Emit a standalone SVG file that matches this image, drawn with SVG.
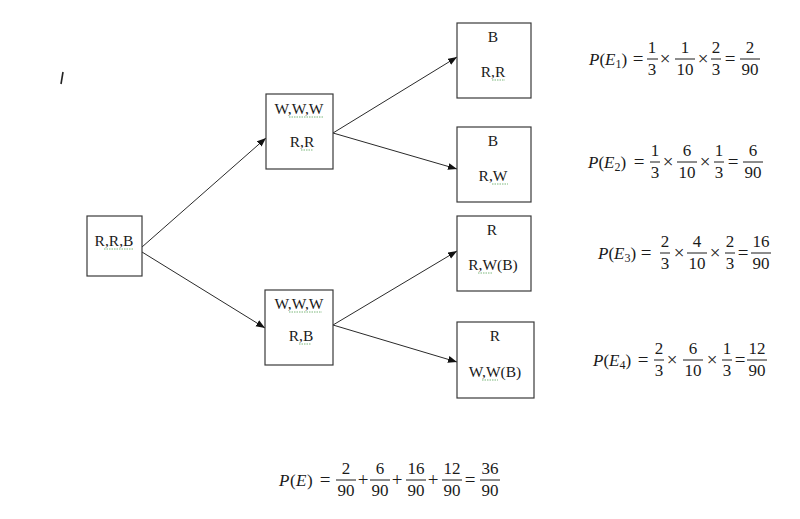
<svg xmlns="http://www.w3.org/2000/svg" width="800" height="519" viewBox="0 0 800 519">
<style>
.box{fill:#fff;stroke:#3a3a3a;stroke-width:1.2}
.t{font-family:"Liberation Serif","Times New Roman",serif;font-size:15.5px;fill:#1a1a1a;text-anchor:middle}
.m{font-family:"Liberation Serif","Times New Roman",serif;font-size:17px;fill:#1a1a1a}
.o{font-size:19px}
.c{text-anchor:middle}
.i{font-style:italic}
.bar{stroke:#1a1a1a;stroke-width:1}
.edge{stroke:#2a2a2a;stroke-width:1;fill:none;marker-end:url(#ah)}
.sq{stroke:#7cb87c;stroke-width:1;fill:none;stroke-dasharray:1.5 1}
</style>
<defs>
<marker id="ah" markerUnits="userSpaceOnUse" markerWidth="10" markerHeight="8" refX="9" refY="3.5" orient="auto">
<path d="M0,0 L9,3.5 L0,7 z" fill="#111"/>
</marker>
</defs>
<rect width="800" height="519" fill="#fff"/>
<path d="M63,72 L61,84" stroke="#222" stroke-width="1.6" fill="none"/>

<g id="connectors">
<line class="edge" x1="142" y1="247" x2="266" y2="138"/>
<line class="edge" x1="142" y1="252" x2="265" y2="328"/>
<line class="edge" x1="333" y1="133" x2="457" y2="57"/>
<line class="edge" x1="333" y1="133" x2="457" y2="169"/>
<line class="edge" x1="333" y1="325" x2="457" y2="251"/>
<line class="edge" x1="333" y1="325" x2="457" y2="362"/>
</g>

<g id="n0">
<rect class="box" x="87" y="216" width="55" height="60"/>
<text class="t" x="114" y="246">R,R,B</text>
<path class="sq" d="M104,249 H133"/>
</g>
<g id="n1">
<rect class="box" x="266" y="94" width="67" height="75"/>
<text class="t" x="299" y="114">W,W,W</text>
<path class="sq" d="M289,117 H323"/>
<text class="t" x="302" y="147">R,R</text>
<path class="sq" d="M301,150 H313"/>
</g>
<g id="n2">
<rect class="box" x="265" y="290" width="68" height="75"/>
<text class="t" x="299" y="309">W,W,W</text>
<path class="sq" d="M289,312 H322"/>
<text class="t" x="301" y="341">R,B</text>
<path class="sq" d="M299,344 H311"/>
</g>
<g id="n3">
<rect class="box" x="457" y="23" width="74" height="75"/>
<text class="t" x="493" y="42">B</text>
<text class="t" x="493" y="77">R,R</text>
<path class="sq" d="M492,80 H505"/>
</g>
<g id="n4">
<rect class="box" x="457" y="127" width="74" height="75"/>
<text class="t" x="493" y="146">B</text>
<text class="t" x="493" y="181">R,W</text>
<path class="sq" d="M492,184 H508"/>
</g>
<g id="n5">
<rect class="box" x="457" y="216" width="74" height="75"/>
<text class="t" x="492" y="235">R</text>
<text class="t" x="493" y="270">R,W(B)</text>
<path class="sq" d="M478,273 H492"/>
</g>
<g id="n6">
<rect class="box" x="457" y="322" width="77" height="76"/>
<text class="t" x="495" y="341">R</text>
<text class="t" x="495" y="377">W,W(B)</text>
<path class="sq" d="M482,380 H498"/>
</g>

<!-- E1: bar 59 -->
<g id="eq1">
<text class="m" x="589" y="65"><tspan class="i">P</tspan>(<tspan class="i">E</tspan><tspan font-size="12" dy="3">1</tspan><tspan dy="-3">)</tspan></text>
<text class="m o c" x="638" y="65">=</text>
<text class="m c" x="652" y="53">1</text><line class="bar" x1="647" y1="59" x2="658" y2="59"/><text class="m c" x="652" y="75">3</text>
<text class="m o c" x="665" y="65">×</text>
<text class="m c" x="685" y="53">1</text><line class="bar" x1="675" y1="59" x2="695" y2="59"/><text class="m c" x="685" y="75">10</text>
<text class="m o c" x="703" y="65">×</text>
<text class="m c" x="716" y="53">2</text><line class="bar" x1="711" y1="59" x2="721" y2="59"/><text class="m c" x="716" y="75">3</text>
<text class="m o c" x="730" y="65">=</text>
<text class="m c" x="750" y="53">2</text><line class="bar" x1="740" y1="59" x2="760" y2="59"/><text class="m c" x="750" y="75">90</text>
</g>

<!-- E2: bar 162 -->
<g id="eq2">
<text class="m" x="588" y="168"><tspan class="i">P</tspan>(<tspan class="i">E</tspan><tspan font-size="12" dy="3">2</tspan><tspan dy="-3">)</tspan></text>
<text class="m o c" x="639" y="168">=</text>
<text class="m c" x="655" y="156">1</text><line class="bar" x1="650" y1="162" x2="660" y2="162"/><text class="m c" x="655" y="178">3</text>
<text class="m o c" x="668" y="168">×</text>
<text class="m c" x="687" y="156">6</text><line class="bar" x1="677" y1="162" x2="697" y2="162"/><text class="m c" x="687" y="178">10</text>
<text class="m o c" x="705" y="168">×</text>
<text class="m c" x="719" y="156">1</text><line class="bar" x1="714" y1="162" x2="724" y2="162"/><text class="m c" x="719" y="178">3</text>
<text class="m o c" x="733" y="168">=</text>
<text class="m c" x="753" y="156">6</text><line class="bar" x1="743" y1="162" x2="763" y2="162"/><text class="m c" x="753" y="178">90</text>
</g>

<!-- E3: bar 253 -->
<g id="eq3">
<text class="m" x="598" y="259"><tspan class="i">P</tspan>(<tspan class="i">E</tspan><tspan font-size="12" dy="3">3</tspan><tspan dy="-3">)</tspan></text>
<text class="m o c" x="646" y="259">=</text>
<text class="m c" x="665" y="247">2</text><line class="bar" x1="660" y1="253" x2="670" y2="253"/><text class="m c" x="665" y="269">3</text>
<text class="m o c" x="679" y="259">×</text>
<text class="m c" x="697" y="247">4</text><line class="bar" x1="687" y1="253" x2="707" y2="253"/><text class="m c" x="697" y="269">10</text>
<text class="m o c" x="715" y="259">×</text>
<text class="m c" x="730" y="247">2</text><line class="bar" x1="725" y1="253" x2="735" y2="253"/><text class="m c" x="730" y="269">3</text>
<text class="m o c" x="743" y="259">=</text>
<text class="m c" x="761" y="247">16</text><line class="bar" x1="751" y1="253" x2="771" y2="253"/><text class="m c" x="761" y="269">90</text>
</g>

<!-- E4: bar 360 -->
<g id="eq4">
<text class="m" x="593" y="366"><tspan class="i">P</tspan>(<tspan class="i">E</tspan><tspan font-size="12" dy="3">4</tspan><tspan dy="-3">)</tspan></text>
<text class="m o c" x="643" y="366">=</text>
<text class="m c" x="659" y="354">2</text><line class="bar" x1="654" y1="360" x2="664" y2="360"/><text class="m c" x="659" y="376">3</text>
<text class="m o c" x="672" y="366">×</text>
<text class="m c" x="693" y="354">6</text><line class="bar" x1="683" y1="360" x2="703" y2="360"/><text class="m c" x="693" y="376">10</text>
<text class="m o c" x="712" y="366">×</text>
<text class="m c" x="727" y="354">1</text><line class="bar" x1="722" y1="360" x2="732" y2="360"/><text class="m c" x="727" y="376">3</text>
<text class="m o c" x="740" y="366">=</text>
<text class="m c" x="757" y="354">12</text><line class="bar" x1="747" y1="360" x2="767" y2="360"/><text class="m c" x="757" y="376">90</text>
</g>

<!-- total: bar 480 -->
<g id="eqTotal">
<text class="m" x="279" y="486" letter-spacing="0.5"><tspan class="i">P</tspan>(<tspan class="i">E</tspan>)</text>
<text class="m o c" x="325" y="486">=</text>
<text class="m c" x="346" y="474">2</text><line class="bar" x1="336" y1="480" x2="356" y2="480"/><text class="m c" x="346" y="496">90</text>
<text class="m o c" x="363" y="486">+</text>
<text class="m c" x="380" y="474">6</text><line class="bar" x1="370" y1="480" x2="390" y2="480"/><text class="m c" x="380" y="496">90</text>
<text class="m o c" x="397" y="486">+</text>
<text class="m c" x="416" y="474">16</text><line class="bar" x1="406" y1="480" x2="426" y2="480"/><text class="m c" x="416" y="496">90</text>
<text class="m o c" x="433" y="486">+</text>
<text class="m c" x="452" y="474">12</text><line class="bar" x1="442" y1="480" x2="462" y2="480"/><text class="m c" x="452" y="496">90</text>
<text class="m o c" x="470" y="486">=</text>
<text class="m c" x="490" y="474">36</text><line class="bar" x1="480" y1="480" x2="500" y2="480"/><text class="m c" x="490" y="496">90</text>
</g>
</svg>
